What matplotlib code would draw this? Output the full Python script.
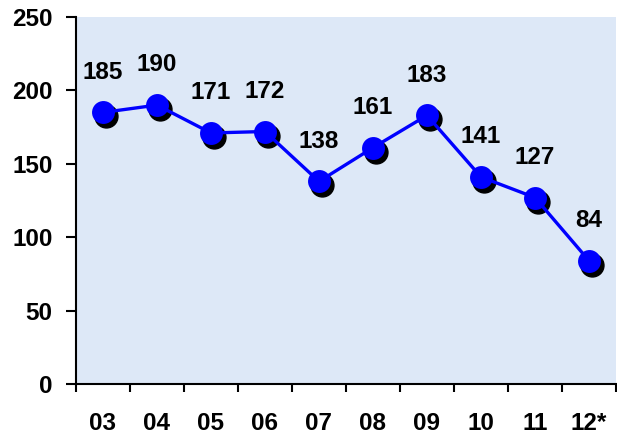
import matplotlib
matplotlib.use("Agg")
import matplotlib.pyplot as plt
import matplotlib.transforms as mtransforms

years = ["03", "04", "05", "06", "07", "08", "09", "10", "11", "12*"]
values = [185, 190, 171, 172, 138, 161, 183, 141, 127, 84]
yticks = [0, 50, 100, 150, 200, 250]

plt.rcParams['font.family'] = ['Liberation Sans', 'DejaVu Sans']
plt.rcParams['font.weight'] = 'bold'

fig = plt.figure(figsize=(6.17, 4.37), dpi=100)
ax = fig.add_axes([76/617, 1 - 384/437, 540/617, (384 - 17)/437])
ax.set_facecolor('#dde8f7')

x = list(range(len(values)))
shadow = mtransforms.offset_copy(ax.transData, fig=fig, x=3, y=-4, units='dots')
ax.plot(x, values, linestyle='none', marker='o', markersize=16.5,
        color='black', transform=shadow, zorder=2, clip_on=False)
ax.plot(x, values, color='#0000ff', linewidth=2.4, marker='o', markersize=16.5,
        markeredgewidth=0, zorder=3, clip_on=False)

for xi, v in zip(x, values):
    ax.annotate(str(v), (xi, v), xytext=(0, 29), textcoords='offset points',
                ha='center', va='center', fontsize=17.5, fontweight='bold')

ax.set_xlim(-0.5, len(values) - 0.5)
ax.set_ylim(0, 250)
ax.set_yticks(yticks)
ax.set_yticklabels([str(t) for t in yticks])
ax.set_xticks([i - 0.5 for i in range(len(values) + 1)])
ax.set_xticklabels([])
ax.set_xticks(x, minor=True)
ax.set_xticklabels(years, minor=True)
ax.tick_params(axis='x', which='major', direction='out', length=6, width=1.5)
ax.tick_params(axis='x', which='minor', length=0, pad=20, labelsize=17.5)
ax.tick_params(axis='y', direction='out', length=7, width=1.5, pad=10, labelsize=17.5)

for s in ['top', 'right']:
    ax.spines[s].set_visible(False)
for s in ['left', 'bottom']:
    ax.spines[s].set_linewidth(1.5)

fig.savefig('out.png', dpi=100)
